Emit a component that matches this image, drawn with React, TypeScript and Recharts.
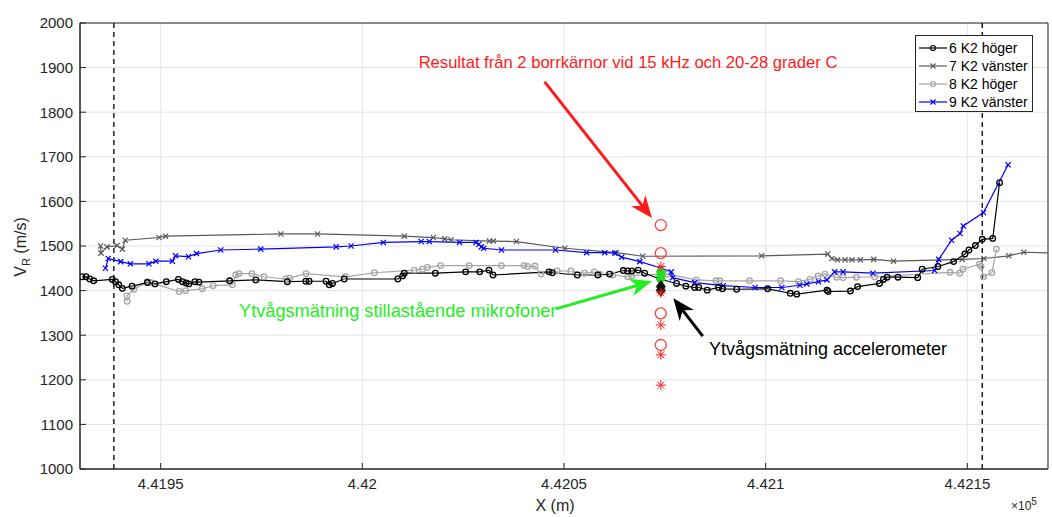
import { ComposedChart, Line, XAxis, YAxis, CartesianGrid, ReferenceLine, ReferenceArea } from "recharts";

const X_TICKS = [441950, 442000, 442050, 442100, 442150];
const Y_TICKS = [1000, 1100, 1200, 1300, 1400, 1500, 1600, 1700, 1800, 1900, 2000];
const DASHED_X = [441938.4, 442153.7];

// 6 K2 höger
const k6: [number, number][] = [
  [441930.5, 1431], [441931.5, 1431], [441932.4, 1426], [441933.4, 1422], [441938.0, 1425], [441938.8, 1420],
  [441939.6, 1413], [441940.5, 1405], [441942.9, 1410], [441946.7, 1418], [441948.6, 1415], [441951.4, 1420],
  [441954.4, 1425], [441955.4, 1420], [441956.3, 1417], [441957.0, 1415], [441958.5, 1420], [441959.5, 1419],
  [441967.1, 1422], [441973.6, 1424], [441981.4, 1420], [441986.0, 1421], [441986.8, 1421], [441991.0, 1421],
  [441991.8, 1413], [441992.6, 1416], [441995.5, 1426], [442008.8, 1426], [442010.0, 1433], [442010.4, 1439],
  [442018.1, 1439], [442025.6, 1442], [442029.1, 1442], [442031.4, 1446], [442032.4, 1435], [442046.3, 1442],
  [442047.1, 1440], [442053.3, 1435], [442058.4, 1435], [442061.3, 1437], [442064.7, 1445], [442065.8, 1444],
  [442066.8, 1444], [442068.4, 1446], [442070.0, 1439], [442073.8, 1426], [442077.9, 1416], [442080.2, 1410],
  [442082.4, 1407], [442083.4, 1407], [442085.5, 1401], [442088.3, 1407], [442089.3, 1404], [442092.8, 1403],
  [442100.5, 1404], [442106.1, 1394], [442107.7, 1392], [442115.2, 1401], [442115.5, 1398], [442121.0, 1399],
  [442122.8, 1409], [442128.2, 1416], [442129.2, 1425], [442130.1, 1430], [442132.8, 1430], [442137.7, 1429],
  [442138.8, 1448], [442142.7, 1454], [442146.6, 1465], [442149.4, 1482], [442150.4, 1491], [442152.0, 1501],
  [442153.7, 1515], [442156.3, 1517], [442158.0, 1642],
];

// 7 K2 vänster
const k7: [number, number][] = [
  [441935.1, 1500], [441935.2, 1484], [441936.7, 1498], [441939.2, 1501], [441940.5, 1493], [441941.2, 1513],
  [441949.6, 1519], [441951.2, 1522], [441979.8, 1527], [441988.9, 1527], [442010.4, 1522], [442017.6, 1519],
  [442020.4, 1516], [442022.0, 1514], [442031.5, 1511], [442032.5, 1511], [442038.2, 1510], [442050.2, 1495],
  [442063.0, 1485], [442069.5, 1477], [442099.0, 1478], [442115.4, 1482], [442116.4, 1472], [442117.8, 1469],
  [442119.7, 1469], [442121.4, 1469], [442123.5, 1469], [442126.8, 1470], [442131.7, 1466], [442148.7, 1470],
  [442154.1, 1472], [442160.3, 1478], [442164.0, 1486], [442178.0, 1483],
];

// 8 K2 höger
const k8: [number, number][] = [
  [441941.7, 1376], [441941.6, 1388], [441943.4, 1403], [441946.7, 1420], [441947.5, 1418], [441954.6, 1398],
  [441956.2, 1400], [441960.3, 1404], [441963.0, 1411], [441967.8, 1413], [441968.6, 1435], [441969.4, 1438],
  [441972.6, 1438], [441975.6, 1431], [441981.0, 1426], [441982.0, 1428], [441986.0, 1438], [441995.8, 1431],
  [442003.0, 1440], [442012.9, 1446], [442014.9, 1448], [442016.1, 1452], [442019.4, 1456], [442026.5, 1456],
  [442034.5, 1456], [442040.1, 1456], [442041.0, 1454], [442042.8, 1455], [442044.3, 1437], [442048.3, 1444],
  [442051.7, 1444], [442055.1, 1439], [442057.5, 1442], [442058.8, 1437], [442062.1, 1435], [442065.8, 1431],
  [442066.8, 1434], [442075.7, 1437], [442082.8, 1424], [442087.7, 1422], [442088.6, 1422], [442096.0, 1422],
  [442103.7, 1422], [442108.1, 1420], [442111.0, 1425], [442113.0, 1433], [442114.7, 1437], [442117.6, 1430],
  [442119.2, 1429], [442122.5, 1430], [442127.0, 1431], [442145.7, 1441], [442148.1, 1439], [442148.9, 1448],
  [442153.0, 1459], [442153.4, 1454], [442154.0, 1431], [442156.1, 1440], [442157.2, 1493],
];

// 9 K2 vänster
const k9: [number, number][] = [
  [441936.3, 1450], [441937.0, 1472], [441940.1, 1465], [441942.5, 1460], [441947.1, 1460], [441948.8, 1466],
  [441952.9, 1466], [441953.7, 1478], [441956.9, 1476], [441958.9, 1483], [441964.9, 1491], [441974.8, 1493],
  [441993.5, 1498], [441997.2, 1500], [442005.2, 1508], [442014.6, 1510], [442016.6, 1510], [442024.1, 1508],
  [442028.2, 1508], [442028.9, 1504], [442029.5, 1498], [442030.1, 1495], [442034.5, 1491], [442047.9, 1491],
  [442055.6, 1485], [442060.1, 1485], [442062.6, 1484], [442064.3, 1475], [442068.8, 1465], [442074.2, 1450],
  [442076.6, 1442], [442076.9, 1429], [442082.4, 1418], [442089.5, 1411], [442097.4, 1407], [442104.0, 1407],
  [442108.5, 1412], [442110.2, 1415], [442113.1, 1420], [442115.2, 1424], [442117.1, 1442], [442119.2, 1442],
  [442126.6, 1439], [442141.9, 1445], [442142.9, 1470], [442146.1, 1513], [442148.2, 1528], [442149.0, 1545],
  [442154.0, 1575], [442160.1, 1682],
];

// borrkärnor och ytvågsmätningar vid samma position
const CORE_X = 442074;
const coreCircles = [1547, 1484, 1349, 1278];
const coreStars = [1454, 1395, 1323, 1256, 1188];
const micValues = [1442, 1434, 1426];
const accValues = [1409, 1401];

const toPts = (arr: [number, number][]) => arr.map(([x, y]) => ({ x, y }));
const atCore = (vals: number[]) => vals.map((y) => ({ x: CORE_X, y }));

const circleDot = (color: string, r = 2.8) => (p: any) => (
  <circle key={p.index} cx={p.cx} cy={p.cy} r={r} fill="none" stroke={color} strokeWidth={1.3} />
);
const crossDot = (color: string, s = 2.6) => (p: any) => (
  <path key={p.index} d={`M${p.cx - s},${p.cy - s}L${p.cx + s},${p.cy + s}M${p.cx - s},${p.cy + s}L${p.cx + s},${p.cy - s}`} stroke={color} strokeWidth={1.2} />
);
const starDot = (color: string, s = 5) => (p: any) => (
  <path
    key={p.index}
    d={`M${p.cx - s},${p.cy}L${p.cx + s},${p.cy}M${p.cx},${p.cy - s}L${p.cx},${p.cy + s}M${p.cx - s * 0.7},${p.cy - s * 0.7}L${p.cx + s * 0.7},${p.cy + s * 0.7}M${p.cx - s * 0.7},${p.cy + s * 0.7}L${p.cx + s * 0.7},${p.cy - s * 0.7}`}
    stroke={color}
    strokeWidth={1}
  />
);
const diamondDot = (color: string, s = 6) => (p: any) => (
  <path key={p.index} d={`M${p.cx},${p.cy - s}L${p.cx + s * 0.75},${p.cy}L${p.cx},${p.cy + s}L${p.cx - s * 0.75},${p.cy}Z`} fill={color} stroke={color} strokeWidth={1} />
);

const arrow = (color: string) => (p: any) => {
  const { x1, y1, x2, y2 } = p;
  const a = Math.atan2(y2 - y1, x2 - x1);
  const len = 22;
  const hw = 9;
  const c = Math.cos(a);
  const s = Math.sin(a);
  const bx = x2 - len * c;
  const by = y2 - len * s;
  const nx = x2 - len * 0.7 * c;
  const ny = y2 - len * 0.7 * s;
  const pts = `${x2},${y2} ${bx + hw * s},${by - hw * c} ${nx},${ny} ${bx - hw * s},${by + hw * c}`;
  return (
    <g>
      <line x1={x1} y1={y1} x2={nx} y2={ny} stroke={color} strokeWidth={3} />
      <polygon points={pts} fill={color} />
    </g>
  );
};

const FONT = "'Liberation Sans', Arial, sans-serif";
const AXIS = "#262626";

const legendItems = [
  { name: "6 K2 höger", color: "#000000", marker: "o" },
  { name: "7 K2 vänster", color: "#595959", marker: "x" },
  { name: "8 K2 höger", color: "#a6a6a6", marker: "o" },
  { name: "9 K2 vänster", color: "#0000ff", marker: "x" },
];

const fmtX = (v: number) => String(parseFloat((v / 1e5).toFixed(5)));

export default function App() {
  return (
    <div style={{ position: "relative", width: 1052, height: 517, fontFamily: FONT, background: "#fff", overflow: "hidden" }}>
      <style>{"body{margin:0}"}</style>
      <ComposedChart width={1052} height={517} margin={{ top: 23, right: 4, bottom: 0, left: 0 }}>
        <CartesianGrid stroke="#e5e5e5" strokeWidth={1} />
        <XAxis
          dataKey="x"
          type="number"
          domain={[441930, 442170]}
          allowDataOverflow
          ticks={X_TICKS}
          tickFormatter={fmtX}
          height={48}
          stroke={AXIS}
          tickSize={-6}
          tickMargin={15}
          tick={{ fontSize: 15, fill: AXIS, fontFamily: FONT }}
        />
        <XAxis xAxisId="top" orientation="top" type="number" domain={[441930, 442170]} allowDataOverflow ticks={X_TICKS} height={0} stroke={AXIS} tickSize={-6} tick={false} />
        <YAxis
          dataKey="y"
          type="number"
          domain={[1000, 2000]}
          allowDataOverflow
          ticks={Y_TICKS}
          width={80}
          stroke={AXIS}
          tickSize={-6}
          tickMargin={13}
          tick={{ fontSize: 15, fill: AXIS, fontFamily: FONT }}
        />
        <YAxis yAxisId="right" orientation="right" type="number" domain={[1000, 2000]} allowDataOverflow ticks={Y_TICKS} width={0} stroke={AXIS} tickSize={-6} tick={false} />

        {DASHED_X.map((x) => (
          <ReferenceLine key={x} x={x} stroke="#000" strokeWidth={1.3} strokeDasharray="5 4" />
        ))}

        <Line data={toPts(k7)} dataKey="y" stroke="#595959" strokeWidth={1.2} dot={crossDot("#595959")} activeDot={false} isAnimationActive={false} />
        <Line data={toPts(k8)} dataKey="y" stroke="#a6a6a6" strokeWidth={1.2} dot={circleDot("#a6a6a6")} activeDot={false} isAnimationActive={false} />
        <Line data={toPts(k9)} dataKey="y" stroke="#0000ff" strokeWidth={1.2} dot={crossDot("#0000ff")} activeDot={false} isAnimationActive={false} />
        <Line data={toPts(k6)} dataKey="y" stroke="#000000" strokeWidth={1.2} dot={circleDot("#000000")} activeDot={false} isAnimationActive={false} />

        <Line data={atCore(coreCircles)} dataKey="y" stroke="none" dot={circleDot("#ff3b3b", 5.5)} activeDot={false} isAnimationActive={false} />
        <Line data={atCore(micValues)} dataKey="y" stroke="none" dot={diamondDot("#22dd22")} activeDot={false} isAnimationActive={false} />
        <Line data={atCore(accValues)} dataKey="y" stroke="none" dot={diamondDot("#111111")} activeDot={false} isAnimationActive={false} />
        <Line data={atCore(coreStars)} dataKey="y" stroke="none" dot={starDot("#ff2020")} activeDot={false} isAnimationActive={false} />

        <ReferenceLine segment={[{ x: 442045.2, y: 1868 }, { x: 442071.8, y: 1563 }]} shape={arrow("#ff1a1a")} />
        <ReferenceLine segment={[{ x: 442048.0, y: 1359 }, { x: 442071.8, y: 1421 }]} shape={arrow("#22ee22")} />
        <ReferenceLine segment={[{ x: 442084.4, y: 1298 }, { x: 442077.1, y: 1383 }]} shape={arrow("#000000")} />

        <ReferenceArea x1={441930} x2={442170} y1={1000} y2={2000} fill="none" stroke={AXIS} strokeWidth={1} />
      </ComposedChart>

      {/* annotations */}
      <div style={{ position: "absolute", left: 628, top: 63, transform: "translate(-50%,-50%)", color: "#ff1a1a", fontSize: 16.6, whiteSpace: "nowrap" }}>
        Resultat från 2 borrkärnor vid 15 kHz och 20-28 grader C
      </div>
      <div style={{ position: "absolute", left: 239, top: 311, transform: "translateY(-50%)", color: "#22ee22", fontSize: 18.2, whiteSpace: "nowrap" }}>
        Ytvågsmätning stillastående mikrofoner
      </div>
      <div style={{ position: "absolute", left: 709, top: 349, transform: "translateY(-50%)", color: "#000", fontSize: 18, whiteSpace: "nowrap" }}>
        Ytvågsmätning accelerometer
      </div>

      {/* axis labels */}
      <div style={{ position: "absolute", left: 22, top: 247, transform: "translate(-50%,-50%) rotate(-90deg)", color: AXIS, fontSize: 16, whiteSpace: "nowrap" }}>
        V<sub style={{ fontSize: 11 }}>R</sub> (m/s)
      </div>
      <div style={{ position: "absolute", left: 555, top: 506, transform: "translate(-50%,-50%)", color: AXIS, fontSize: 16, whiteSpace: "nowrap" }}>
        X (m)
      </div>
      <div style={{ position: "absolute", left: 1011, top: 498, color: AXIS, fontSize: 12, lineHeight: "16px", whiteSpace: "nowrap" }}>
        ×10<sup style={{ fontSize: 10, lineHeight: 0 }}>5</sup>
      </div>

      {/* legend */}
      <div style={{ position: "absolute", left: 915, top: 35, width: 118, height: 77, border: `1px solid ${AXIS}`, background: "#fff", boxSizing: "border-box", padding: "3px 0 0 2px" }}>
        {legendItems.map((it) => (
          <div key={it.name} style={{ display: "flex", alignItems: "center", height: 18, fontSize: 14, color: "#000", whiteSpace: "nowrap" }}>
            <svg width={30} height={18}>
              <line x1={1} y1={9} x2={29} y2={9} stroke={it.color} strokeWidth={1.2} />
              {it.marker === "o" ? (
                <circle cx={15} cy={9} r={2.5} fill="none" stroke={it.color} strokeWidth={1.2} />
              ) : (
                <path d="M12.5,6.5L17.5,11.5M12.5,11.5L17.5,6.5" stroke={it.color} strokeWidth={1.1} />
              )}
            </svg>
            <span style={{ marginLeft: 1 }}>{it.name}</span>
          </div>
        ))}
      </div>
    </div>
  );
}
